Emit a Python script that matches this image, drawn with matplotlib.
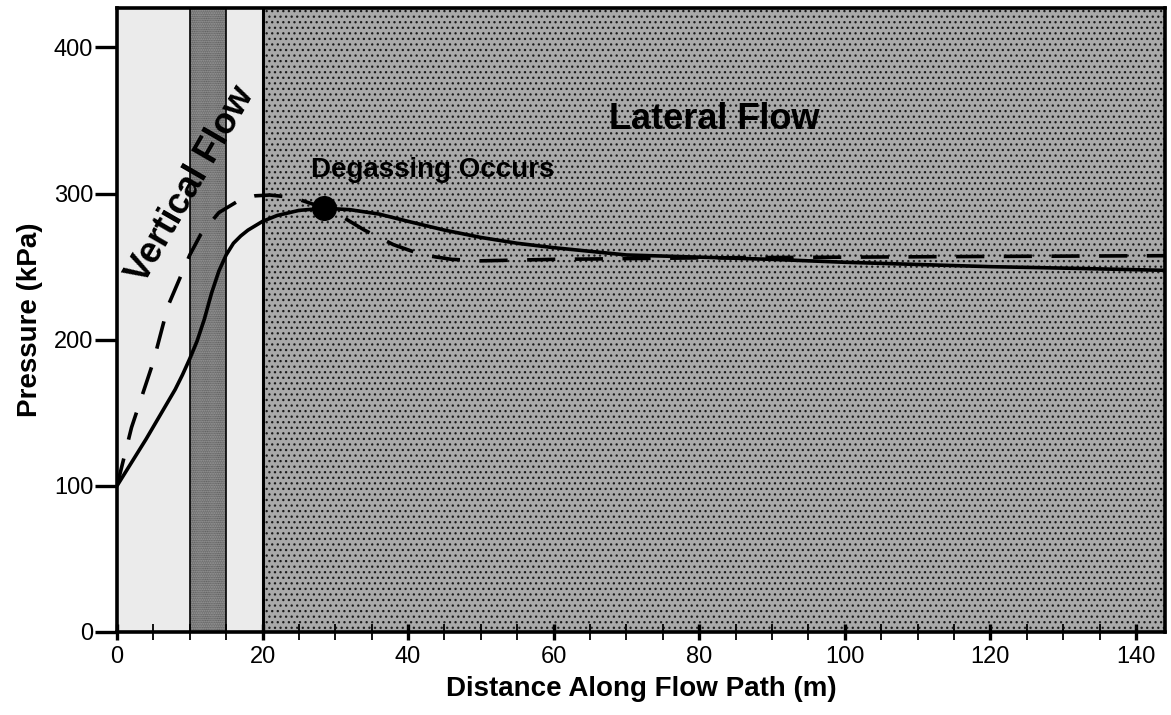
import matplotlib
matplotlib.use("Agg")
import matplotlib.pyplot as plt

plt.rcParams['font.family'] = ['Liberation Sans', 'DejaVu Sans']
plt.rcParams['hatch.linewidth'] = 0.9

# Pressure along the flow path (kPa vs m)
solid_x = [0, 2, 4, 6, 8, 9, 10, 11, 12, 13, 14, 15, 16, 17, 18, 20, 22, 25,
           28.5, 32, 36, 40, 45, 50, 55, 60, 70, 80, 90, 100, 110, 120, 130,
           144]
solid_y = [100, 116, 132, 149, 166, 176, 187, 199, 214, 232, 247, 258, 266,
           271, 275, 281, 285, 288.5, 290, 289, 286, 281, 275, 270, 266, 263,
           258, 256.5, 255, 253, 251.5, 250, 249, 247.5]

dashed_x = [0, 2, 5, 7, 10, 11.5, 14, 17, 19, 21, 23, 25, 28, 31, 34, 38, 42,
            46, 50, 60, 70, 80, 100, 120, 144]
dashed_y = [100, 140, 185, 223, 258, 272, 287, 296, 298.5, 299, 298, 296,
            291, 284, 275, 265, 258, 255, 254, 255, 255.5, 256, 256.5, 257,
            257.5]

degas_x = 28.5
degas_y = 290

# Flow zones along the path
zone_edges = [0, 10, 15, 20, 144]

x_ticks = [0, 20, 40, 60, 80, 100, 120, 140]
y_ticks = [0, 100, 200, 300, 400]

fig = plt.figure(figsize=(11.71, 7.15), dpi=100)
ax = fig.add_axes([0.0999, 0.1161, 0.8950, 0.8727])
ax.set_xlim(0, 144)
ax.set_ylim(0, 427)

ymax = 427
# light vertical-flow zones
ax.axvspan(zone_edges[0], zone_edges[1], color='#ebebeb', lw=0, zorder=0)
ax.axvspan(zone_edges[2], zone_edges[3], color='#ebebeb', lw=0, zorder=0)
# dense stippled band
ax.fill_between([zone_edges[1], zone_edges[2]], 0, ymax, facecolor='#b4b4b4',
                edgecolor='#3c3c3c', hatch='.........', lw=0, zorder=0)
# lateral-flow zone
ax.fill_between([zone_edges[3], zone_edges[4]], 0, ymax, facecolor='#a9a9a9',
                edgecolor='#1a1a1a', hatch='...', lw=0, zorder=0)

ax.axvline(zone_edges[1], color='black', lw=1.2, zorder=1)
ax.axvline(zone_edges[2], color='black', lw=1.2, zorder=1)
ax.axvline(zone_edges[3], color='black', lw=2.2, zorder=1)

ax.plot(solid_x, solid_y, color='black', lw=2.6, zorder=3,
        solid_capstyle='butt')
ln, = ax.plot(dashed_x, dashed_y, color='black', lw=2.6, zorder=3,
              dash_capstyle='butt')
ln.set_dashes([7.8, 5.4])
ax.plot([degas_x], [degas_y], 'o', color='black', ms=17, zorder=4)

ax.text(26.6, 316, 'Degassing Occurs', fontsize=20, fontweight='bold',
        ha='left', va='center', zorder=5)
ax.text(82, 351, 'Lateral Flow', fontsize=26, fontweight='bold',
        ha='center', va='center', zorder=5)
ax.text(10.2, 306, 'Vertical Flow', fontsize=26, fontweight='bold',
        ha='center', va='center', rotation=60, zorder=5)

for s in ax.spines.values():
    s.set_linewidth(2.6)
    s.set_zorder(6)

ax.set_xticks(x_ticks)
ax.set_xticks([v for v in range(0, 145, 5) if v % 20], minor=True)
ax.set_yticks(y_ticks)
ax.tick_params(axis='x', which='major', direction='inout', length=12, width=2.4,
               labelsize=17, pad=4)
ax.tick_params(axis='x', which='minor', direction='inout', length=11, width=1.3)
ax.tick_params(axis='y', which='major', direction='out', length=16, width=2.4,
               labelsize=17, pad=1)

ax.set_xlabel('Distance Along Flow Path (m)', fontsize=20, fontweight='bold',
              labelpad=6)
ax.set_ylabel('Pressure (kPa)', fontsize=20, fontweight='bold', labelpad=8)

fig.savefig('out.png', dpi=100)
